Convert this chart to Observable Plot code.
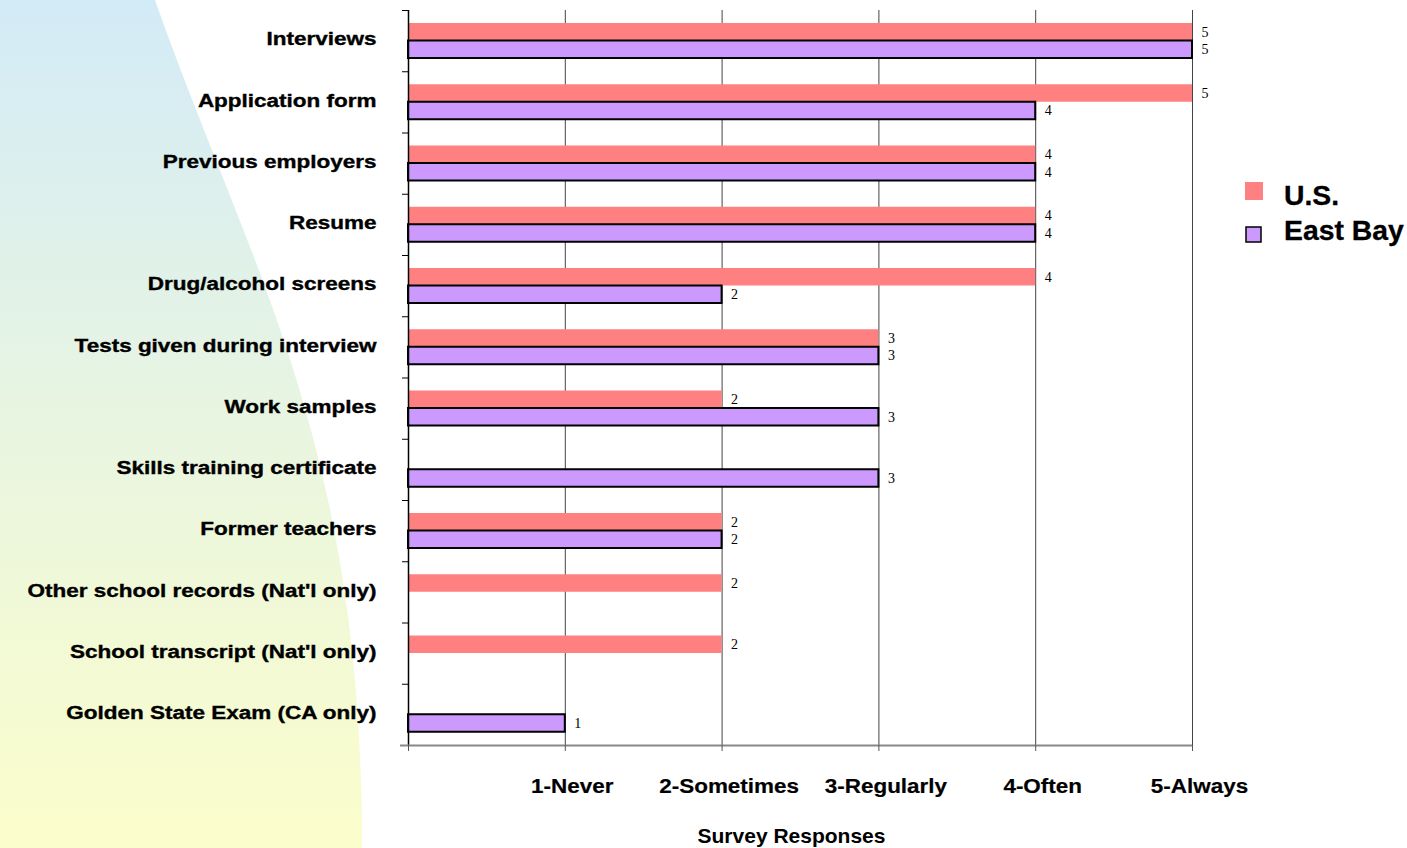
<!DOCTYPE html>
<html>
<head>
<meta charset="utf-8">
<script src="https://cdn.jsdelivr.net/npm/d3@7"></script>
<script src="https://cdn.jsdelivr.net/npm/@observablehq/plot@0.6"></script>
<style>
  html, body { margin: 0; padding: 0; background: #ffffff; }
  #wrap { position: relative; width: 1407px; height: 848px; overflow: hidden; font-family: "Liberation Sans", Arial, sans-serif; }
  #wrap > svg { position: absolute; left: 0; top: 0; }
</style>
</head>
<body>
<div id="wrap">
  <svg id="backdrop" width="1407" height="848">
    <defs>
      <linearGradient id="bgFade" x1="0" y1="0" x2="0" y2="1">
        <stop offset="0" stop-color="#d3ebf7"/>
        <stop offset="0.5" stop-color="#e8f5e0"/>
        <stop offset="1" stop-color="#fbfdcb"/>
      </linearGradient>
    </defs>
    <path d="M0,0 L155,0 C250,270 362,440 362,848 L0,848 Z" fill="url(#bgFade)"/>
  </svg>
</div>
<script>
// Hiring-practice survey: how often each screening tool is used (1 = never … 5 = always)
const categories = [
  "Interviews",
  "Application form",
  "Previous employers",
  "Resume",
  "Drug/alcohol screens",
  "Tests given during interview",
  "Work samples",
  "Skills training certificate",
  "Former teachers",
  "Other school records (Nat'l only)",
  "School transcript (Nat'l only)",
  "Golden State Exam (CA only)"
];
const usValues       = [5, 5, 4, 4, 4, 3, 2, null, 2, 2, 2, null];
const eastBayValues  = [5, 4, 4, 4, 2, 3, 3, 3, 2, null, null, 1];
const responseTicks  = [1, 2, 3, 4, 5];
const responseLabels = ["1-Never", "2-Sometimes", "3-Regularly", "4-Often", "5-Always"];
const seriesNames    = ["U.S.", "East Bay"];

const usRows = categories.map((c, i) => ({category: c, value: usValues[i]})).filter(d => d.value != null);
const ebRows = categories.map((c, i) => ({category: c, value: eastBayValues[i]})).filter(d => d.value != null);

const W = 1407, H = 848;
const mTop = 10, mBottom = 103, mLeft = 408, mRight = 215;
const band = (H - mTop - mBottom) / categories.length;
const pad = 13, barH = 17.5;

const usColor = "#ff8080", ebColor = "#cc99ff";
const sans = "'Liberation Sans', Arial, sans-serif";
const serif = "'Liberation Serif', 'Times New Roman', serif";

const chart = Plot.plot({
  width: W,
  height: H,
  marginTop: mTop,
  marginBottom: mBottom,
  marginLeft: mLeft,
  marginRight: mRight,
  style: {background: "transparent", fontFamily: sans, color: "#000"},
  x: {domain: [0, 5]},
  y: {type: "band", domain: categories, padding: 0, round: false},
  marks: [
    // vertical grid at each response level
    Plot.ruleX(responseTicks, {stroke: "#444", strokeWidth: 1}),
    // band separators on the category axis
    Plot.ruleY(categories, {x1: () => 0, x2: () => 0, insetLeft: -6, dy: -band / 2, stroke: "#000", strokeWidth: 1}),
    // bars
    Plot.barX(usRows, {x: "value", y: "category", fill: usColor, insetTop: pad, insetBottom: band - pad - barH}),
    Plot.barX(ebRows, {x: "value", y: "category", fill: ebColor, stroke: "#000", strokeWidth: 2,
      insetTop: pad + barH, insetBottom: band - pad - 2 * barH}),
    // value labels
    Plot.text(usRows, {x: "value", y: "category", text: d => String(d.value), dx: 9, dy: -(band / 2 - pad - barH / 2),
      textAnchor: "start", fontFamily: serif, fontSize: 14, fill: "#000"}),
    Plot.text(ebRows, {x: "value", y: "category", text: d => String(d.value), dx: 9, dy: pad + 1.5 * barH - band / 2,
      textAnchor: "start", fontFamily: serif, fontSize: 14, fill: "#000"}),
    // left axis line
    Plot.ruleX([0], {stroke: "#000", strokeWidth: 1.5}),
    // bottom axis line
    Plot.ruleY([categories[categories.length - 1]], {dy: band / 2, insetLeft: -8, stroke: "#888", strokeWidth: 2}),
    // x tick marks
    Plot.axisX({ticks: [0, ...responseTicks], tickSize: 6, tickFormat: () => "", stroke: "#555", label: null}),
    // x tick labels
    Plot.axisX({ticks: responseTicks, tickSize: 0, tickPadding: 33, dx: 7, label: null,
      tickFormat: d => responseLabels[responseTicks.indexOf(d)], fontSize: 21, fontWeight: "bold", fill: "#000"}),
    // category labels
    Plot.axisY({tickSize: 0, tickPadding: 32, dy: -1.5, label: null, fontSize: 18, fontWeight: "bold", fill: "#000"}),
    // axis title
    Plot.text(["Survey Responses"], {frameAnchor: "bottom", dy: 97, dx: -9, fontSize: 21, fontWeight: "bold",
      fill: "#000", ariaLabel: "axis title"})
  ]
});

// widen the bold labels horizontally and give them a little more weight
function stretch(svg, selector, s, weight) {
  svg.querySelectorAll(selector).forEach(t => {
    const tr = t.getAttribute("transform");
    if (tr) {
      t.setAttribute("transform", tr + ` scale(${s},1)`);
    } else {
      const x = +(t.getAttribute("x") || 0), y = +(t.getAttribute("y") || 0);
      t.removeAttribute("x");
      t.removeAttribute("y");
      t.setAttribute("transform", `translate(${x},${y}) scale(${s},1)`);
    }
    if (weight) {
      t.style.stroke = "#000";
      t.style.strokeWidth = weight;
    }
  });
}
stretch(chart, 'g[aria-label="y-axis tick label"] text', 1.25, 0.35);
stretch(chart, 'g[aria-label="x-axis tick label"] text', 1.07, 0.2);
stretch(chart, 'g[aria-label="axis title"] text', 1.07, 0.2);

document.getElementById("wrap").appendChild(chart);

// legend
const ns = "http://www.w3.org/2000/svg";
const legend = document.createElementNS(ns, "svg");
legend.setAttribute("width", W);
legend.setAttribute("height", H);
const entries = [
  {name: seriesNames[0], fill: usColor, stroke: "none", x: 1245, y: 182, s: 18, ty: 195},
  {name: seriesNames[1], fill: ebColor, stroke: "#000", x: 1246, y: 227, s: 15, ty: 230}
];
entries.forEach(e => {
  const r = document.createElementNS(ns, "rect");
  r.setAttribute("x", e.x); r.setAttribute("y", e.y);
  r.setAttribute("width", e.s); r.setAttribute("height", e.s);
  r.setAttribute("fill", e.fill);
  if (e.stroke !== "none") { r.setAttribute("stroke", e.stroke); r.setAttribute("stroke-width", 1.5); }
  legend.appendChild(r);
  const t = document.createElementNS(ns, "text");
  t.setAttribute("transform", `translate(1284,${e.ty}) scale(1.05,1)`);
  t.setAttribute("dy", "0.36em");
  t.setAttribute("font-family", sans);
  t.setAttribute("font-weight", "bold");
  t.setAttribute("font-size", 27);
  t.setAttribute("stroke", "#000");
  t.setAttribute("stroke-width", 0.3);
  t.textContent = e.name;
  legend.appendChild(t);
});
document.getElementById("wrap").appendChild(legend);
</script>
</body>
</html>
